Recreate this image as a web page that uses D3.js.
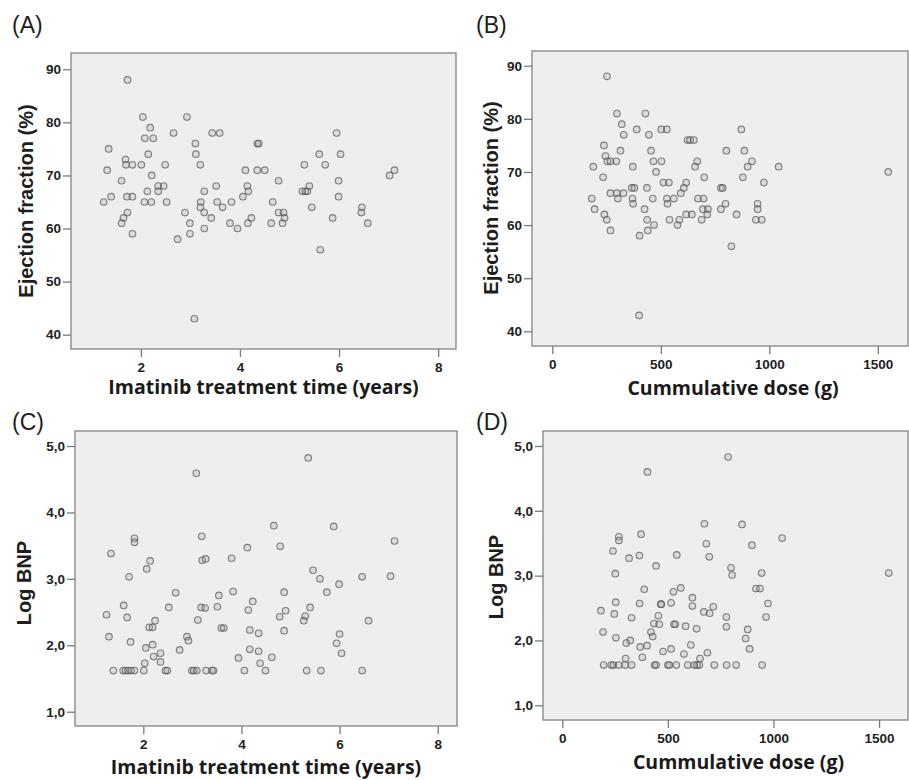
<!DOCTYPE html>
<html>
<head>
<meta charset="utf-8">
<script src="https://cdn.jsdelivr.net/npm/d3@7"></script>
<style>
  html, body { margin: 0; padding: 0; background: #fff; }
  svg { display: block; }
</style>
</head>
<body>
<svg id="chart" width="909" height="780"></svg>
<script>
// ---------------- DATA ----------------
// (A) Ejection fraction (%) vs Imatinib treatment time (years)
const efVsTime = [
  [1.25,65],[1.32,71],[1.35,75],[1.40,66],[1.73,88],[1.61,69],[1.69,73],[1.70,72],[1.83,72],[1.72,66],
  [1.83,66],[1.73,63],[1.65,62],[1.61,61],[1.83,59],[2.04,81],[2.01,72],[2.08,77],[2.25,77],[2.19,79],
  [2.15,74],[2.22,70],[2.13,67],[2.07,65],[2.21,65],[2.35,68],[2.46,68],[2.35,67],[2.49,72],[2.52,65],
  [2.66,78],[2.74,58],[2.93,81],[2.89,63],[2.99,61],[2.99,59],[3.08,43],[3.10,76],[3.11,74],[3.20,72],
  [3.21,65],[3.20,64],[3.28,67],[3.28,63],[3.28,60],[3.42,62],[3.44,78],[3.59,78],[3.52,68],[3.54,65],
  [3.65,64],[3.80,61],[3.83,65],[3.95,60],[4.06,66],[4.11,71],[4.15,68],[4.17,67],[4.16,61],[4.23,62],
  [4.35,76],[4.38,76],[4.35,71],[4.50,71],[4.63,61],[4.66,65],[4.78,69],[4.78,63],[4.88,63],[4.86,61],
  [4.90,62],[5.30,72],[5.26,67],[5.32,67],[5.36,67],[5.40,68],[5.45,64],[5.60,74],[5.62,56],[5.72,72],
  [5.87,62],[5.95,78],[5.99,69],[5.99,66],[6.03,74],[6.46,64],[6.45,63],[6.58,61],[7.02,70],[7.12,71]
];
// (B) Ejection fraction (%) vs Cummulative dose (g)
const efVsDose = [
  [252,88],[298,81],[429,81],[320,79],[329,77],[389,78],[445,77],[502,78],[528,78],[623,76],
  [635,76],[652,76],[238,75],[245,73],[254,72],[268,72],[295,72],[314,74],[189,71],[371,71],
  [455,74],[466,72],[503,72],[478,70],[234,69],[268,66],[297,66],[328,66],[302,65],[182,65],
  [195,63],[240,62],[251,61],[268,59],[366,67],[378,67],[369,65],[372,64],[436,67],[425,63],
  [437,61],[440,59],[402,58],[400,43],[463,65],[469,60],[512,68],[537,68],[528,65],[531,64],
  [560,65],[540,61],[577,60],[585,61],[592,66],[606,67],[617,68],[617,62],[643,62],[658,71],
  [668,72],[700,69],[671,65],[697,65],[694,63],[717,63],[714,62],[688,61],[777,67],[785,67],
  [777,63],[798,64],[802,74],[825,56],[849,62],[871,78],[885,74],[878,69],[900,71],[920,72],
  [975,68],[946,64],[946,63],[938,61],[965,61],[1043,71],[1548,70]
];
// (C) Log BNP vs Imatinib treatment time (years)
const bnpVsTime = [
  [1.25,2.46],[1.30,2.13],[1.34,3.38],[1.39,1.62],[1.60,2.60],[1.67,2.42],[1.71,3.03],[1.74,2.05],[1.82,3.61],[1.82,3.55],
  [1.59,1.62],[1.64,1.62],[1.69,1.62],[1.75,1.62],[1.82,1.62],[2.01,1.62],[2.03,1.73],[2.05,1.96],[2.07,3.15],[2.14,3.27],
  [2.12,2.27],[2.19,2.27],[2.19,2.01],[2.24,2.37],[2.21,1.83],[2.35,1.88],[2.35,1.75],[2.45,1.62],[2.49,1.62],[2.52,2.57],
  [2.66,2.79],[2.74,1.93],[2.89,2.13],[2.92,2.07],[2.99,1.62],[3.03,1.62],[3.09,1.62],[3.08,4.59],[3.11,2.38],[3.19,3.64],
  [3.20,3.28],[3.27,3.30],[3.18,2.57],[3.26,2.56],[3.28,1.62],[3.40,1.62],[3.43,1.62],[3.51,2.58],[3.54,2.75],[3.59,2.26],
  [3.64,2.26],[3.80,3.31],[3.83,2.81],[3.94,1.81],[4.06,1.62],[4.12,3.47],[4.14,2.53],[4.23,2.66],[4.17,2.23],[4.17,1.94],
  [4.35,2.18],[4.35,1.91],[4.38,1.73],[4.49,1.62],[4.62,1.82],[4.66,3.80],[4.78,2.43],[4.79,3.49],[4.87,2.80],[4.90,2.52],
  [4.87,2.22],[5.27,2.37],[5.30,2.44],[5.36,4.82],[5.33,1.62],[5.40,2.57],[5.46,3.13],[5.60,3.00],[5.62,1.62],[5.74,2.80],
  [5.88,3.79],[5.94,2.03],[5.99,2.92],[6.00,2.17],[6.04,1.88],[6.46,3.03],[6.46,1.62],[6.59,2.37],[7.04,3.04],[7.12,3.57]
];
// (D) Log BNP vs Cummulative dose (g)
const bnpVsDose = [
  [785,4.83],[403,4.60],[673,3.80],[851,3.79],[1041,3.58],[373,3.64],[268,3.60],[268,3.54],[240,3.38],[682,3.49],
  [898,3.47],[316,3.27],[365,3.31],[542,3.32],[696,3.29],[444,3.15],[799,3.12],[804,3.01],[251,3.03],[944,3.04],
  [1546,3.04],[388,2.79],[561,2.81],[526,2.75],[917,2.80],[936,2.80],[253,2.59],[366,2.57],[466,2.56],[469,2.56],
  [515,2.58],[616,2.66],[616,2.53],[715,2.52],[974,2.57],[183,2.46],[246,2.41],[328,2.35],[455,2.38],[434,2.26],
  [459,2.25],[529,2.25],[535,2.25],[584,2.22],[636,2.18],[670,2.44],[698,2.42],[777,2.36],[777,2.21],[878,2.17],
  [868,2.03],[887,1.87],[965,2.36],[193,2.13],[254,2.04],[420,2.13],[428,2.06],[322,2.00],[303,1.96],[369,1.90],
  [401,1.92],[515,1.87],[477,1.83],[609,1.93],[576,1.79],[687,1.81],[300,1.72],[379,1.74],[652,1.72],
  [196,1.62],[232,1.62],[242,1.62],[267,1.62],[297,1.62],[328,1.62],[437,1.62],[444,1.62],[500,1.62],[507,1.62],
  [540,1.62],[594,1.62],[625,1.62],[638,1.62],[649,1.62],[720,1.62],[778,1.62],[823,1.62],[946,1.62]
];

// Tick values and labels
const timeTicks = [2, 4, 6, 8];
const doseTicks = [0, 500, 1000, 1500];
const efTicks = [40, 50, 60, 70, 80, 90];
const bnpTicks = [1, 2, 3, 4, 5];
const bnpTickLabels = ["1,0", "2,0", "3,0", "4,0", "5,0"];

const panelLabels = ["(A)", "(B)", "(C)", "(D)"];
const xTitles = ["Imatinib treatment time (years)", "Cummulative dose (g)", "Imatinib treatment time (years)", "Cummulative dose (g)"];
const yTitles = ["Ejection fraction (%)", "Ejection fraction (%)", "Log BNP", "Log BNP"];

// ---------------- LAYOUT ----------------
const panels = [
  { data: efVsTime, label: panelLabels[0], labelPos: [12, 33],
    frame: { l: 71, t: 53, r: 456, b: 349 },
    xDomain: [0.59, 8.36], yDomain: [37.3, 93.07],
    xTicks: timeTicks, yTicks: efTicks, yFmt: d => String(d),
    xTitle: xTitles[0], xTitleY: 394, yTitle: yTitles[0], yTitleX: 33, yTitleY: 201 },
  { data: efVsDose, label: panelLabels[1], labelPos: [476, 33],
    frame: { l: 532, t: 51, r: 908, b: 346 },
    xDomain: [-93.6, 1639], yDomain: [37.24, 92.77],
    xTicks: doseTicks, yTicks: efTicks, yFmt: d => String(d),
    xTitle: xTitles[1], xTitleY: 395, yTitle: yTitles[1], yTitleX: 498, yTitleY: 198 },
  { data: bnpVsTime, label: panelLabels[2], labelPos: [12, 430],
    frame: { l: 75, t: 431, r: 457, b: 726 },
    xDomain: [0.608, 8.393], yDomain: [0.785, 5.226],
    xTicks: timeTicks, yTicks: bnpTicks, yFmt: (d, i) => bnpTickLabels[i],
    xTitle: xTitles[2], xTitleY: 774, yTitle: yTitles[2], yTitleX: 31, yTitleY: 583 },
  { data: bnpVsDose, label: panelLabels[3], labelPos: [476, 430],
    frame: { l: 543, t: 431, r: 908, b: 720 },
    xDomain: [-91.4, 1637], yDomain: [0.773, 5.231],
    xTicks: doseTicks, yTicks: bnpTicks, yFmt: (d, i) => bnpTickLabels[i],
    xTitle: xTitles[3], xTitleY: 769, yTitle: yTitles[3], yTitleX: 503, yTitleY: 577 }
];

const svg = d3.select("#chart");
svg.append("rect").attr("width", 909).attr("height", 780).attr("fill", "#ffffff");

const tickFont = "'Liberation Sans', Arial, sans-serif";
const titleFont = "'Open Sans', 'Noto Sans', sans-serif";

panels.forEach(p => {
  const f = p.frame;
  const x = d3.scaleLinear().domain(p.xDomain).range([f.l, f.r]);
  const y = d3.scaleLinear().domain(p.yDomain).range([f.b, f.t]);
  const g = svg.append("g");

  // plot background / frame
  g.append("rect")
    .attr("x", f.l).attr("y", f.t)
    .attr("width", f.r - f.l).attr("height", f.b - f.t)
    .attr("fill", "#eeeeee")
    .attr("stroke", "#8c8c8c")
    .attr("stroke-width", 1.4);

  // axes
  const xAxis = g.append("g")
    .attr("transform", `translate(0,${f.b})`)
    .call(d3.axisBottom(x).tickValues(p.xTicks).tickSize(8).tickPadding(5).tickFormat(d => String(d)));
  const yAxis = g.append("g")
    .attr("transform", `translate(${f.l},0)`)
    .call(d3.axisLeft(y).tickValues(p.yTicks).tickSize(8).tickPadding(2).tickFormat(p.yFmt));
  [xAxis, yAxis].forEach(a => {
    a.select(".domain").remove();
    a.selectAll(".tick line").attr("stroke", "#7a7a7a").attr("stroke-width", 1.3);
    a.selectAll(".tick text")
      .attr("fill", "#222")
      .style("font-family", tickFont)
      .style("font-size", "13.5px")
      .style("font-weight", "bold");
  });

  // points
  g.append("g").selectAll("circle")
    .data(p.data)
    .join("circle")
    .attr("cx", d => x(d[0]))
    .attr("cy", d => y(d[1]))
    .attr("r", 3.3)
    .attr("fill", "rgba(150,150,150,0.22)")
    .attr("stroke", "rgba(85,85,85,0.72)")
    .attr("stroke-width", 1.1);

  // panel label
  svg.append("text")
    .attr("x", p.labelPos[0]).attr("y", p.labelPos[1])
    .attr("fill", "#1e1e1e")
    .style("font-family", tickFont)
    .style("font-size", "23px")
    .text(p.label);

  // x title
  svg.append("text")
    .attr("x", (f.l + f.r) / 2 + (p.xTicks === doseTicks ? 13 : 0))
    .attr("y", p.xTitleY)
    .attr("text-anchor", "middle")
    .attr("fill", "#1a1a1a")
    .style("font-family", titleFont)
    .style("font-size", "19.5px")
    .style("font-weight", 700)
    .text(p.xTitle);

  // y title
  svg.append("text")
    .attr("transform", `translate(${p.yTitleX},${p.yTitleY}) rotate(-90)`)
    .attr("text-anchor", "middle")
    .attr("fill", "#1e1e1e")
    .style("font-family", tickFont)
    .style("font-size", "20px")
    .style("font-weight", "bold")
    .text(p.yTitle);
});
</script>
</body>
</html>
